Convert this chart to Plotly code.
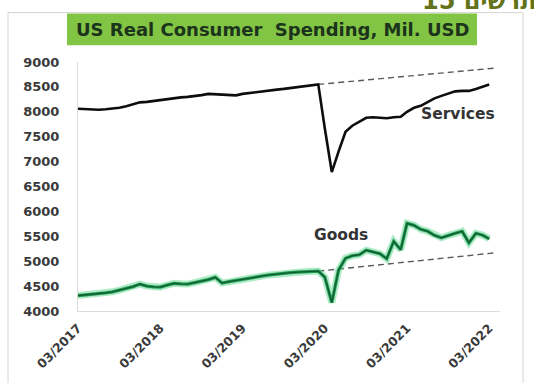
import pandas as pd
import plotly.graph_objects as go

# Monthly real consumer spending (millions USD), Mar 2017 - Mar 2022
months = pd.date_range("2017-03-01", "2022-03-01", freq="MS")

services = [
    8060, 8050, 8045, 8040, 8050, 8065, 8080, 8110, 8150, 8190,
    8200, 8220, 8245, 8260, 8275, 8290, 8300, 8315, 8335, 8360,
    8355, 8345, 8335, 8330, 8360, 8380, 8395, 8410, 8430, 8445,
    8460, 8478, 8490, 8510, 8530, 8550, 7670, 6790, 7200, 7600,
    7720, 7800, 7880, 7890, 7880, 7870, 7890, 7900, 8000, 8080,
    8120, 8200, 8270, 8320, 8370, 8410, 8420, 8420, 8460, 8510,
    8550,
]

goods = [
    4310, 4320, 4335, 4350, 4365, 4385, 4420, 4450, 4490, 4540,
    4500, 4485, 4480, 4520, 4555, 4545, 4540, 4570, 4595, 4630,
    4675, 4560, 4590, 4615, 4640, 4670, 4690, 4705, 4725, 4745,
    4760, 4770, 4780, 4790, 4800, 4800, 4680, 4170, 4820, 5060,
    5110, 5130, 5220, 5190, 5150, 5050, 5400, 5230, 5760, 5720,
    5640, 5600, 5520, 5470, 5520, 5560, 5600, 5370, 5560, 5520,
    5450,
]

# Pre-pandemic trend lines (from Feb 2020 forward)
trend_dates = ["2020-02-01", "2022-04-01"]
services_trend = [8550, 8880]
goods_trend = [4800, 5170]

y_ticks = [4000, 4500, 5000, 5500, 6000, 6500, 7000, 7500, 8000, 8500, 9000]

title_text = "US Real Consumer  Spending, Mil. USD"
header_text = "15 תרשים"

W, H = 534, 383
ML, MR, MT, MB = 78, 34, 62, 69
PW, PH = W - ML - MR, H - MT - MB


def px(x):
    return (x - ML) / PW


def py(y):
    return (H - MB - y) / PH


FONT = "DejaVu Sans"

fig = go.Figure()

# Dashed trend lines
for tv in (services_trend, goods_trend):
    fig.add_trace(go.Scatter(
        x=trend_dates, y=tv, mode="lines",
        line=dict(color="#5a5a5a", width=1.4, dash="6px,4px"),
        hoverinfo="skip", showlegend=False,
    ))

# Goods: soft green glow under a darker core line
fig.add_trace(go.Scatter(
    x=months, y=goods, mode="lines",
    line=dict(color="rgba(80,210,130,0.45)", width=7),
    hoverinfo="skip", showlegend=False,
))
fig.add_trace(go.Scatter(
    x=months, y=goods, mode="lines",
    line=dict(color="#1f9a52", width=3.2),
    showlegend=False,
))
fig.add_trace(go.Scatter(
    x=months, y=goods, mode="lines",
    line=dict(color="#135c31", width=1.4),
    showlegend=False,
))

# Services
fig.add_trace(go.Scatter(
    x=months, y=services, mode="lines",
    line=dict(color="#0d0d0d", width=2.6),
    showlegend=False,
))

# Frame and title box
shapes = [
    dict(type="rect", xref="paper", yref="paper",
         x0=px(8), x1=px(523), y0=py(395), y1=py(12),
         line=dict(color="#d4d4d4", width=1), fillcolor="rgba(0,0,0,0)", layer="below"),
    dict(type="rect", xref="paper", yref="paper",
         x0=px(67), x1=px(477), y0=py(45), y1=py(13),
         line=dict(width=0), fillcolor="#82c443", layer="below"),
]

annotations = [
    dict(text=title_text, xref="paper", yref="paper",
         x=px(272), y=py(29), xanchor="center", yanchor="middle", showarrow=False,
         font=dict(family=FONT, size=18, color="#1c331c", weight="bold")),
    dict(text=header_text, xref="paper", yref="paper",
         x=px(420), y=py(0), xanchor="left", yanchor="middle", showarrow=False,
         font=dict(family=FONT, size=24, color="#62731a", weight="bold")),
    dict(text="Services", xref="paper", yref="paper",
         x=px(458), y=py(115), xanchor="center", yanchor="middle", showarrow=False,
         font=dict(family=FONT, size=15.5, color="#333333", weight="bold")),
    dict(text="Goods", xref="paper", yref="paper",
         x=px(341), y=py(237), xanchor="center", yanchor="middle", showarrow=False,
         font=dict(family=FONT, size=15.5, color="#333333", weight="bold")),
]

fig.update_layout(
    width=W, height=H,
    margin=dict(l=ML, r=MR, t=MT, b=MB),
    paper_bgcolor="white", plot_bgcolor="white",
    shapes=shapes, annotations=annotations,
    font=dict(family=FONT),
)

fig.update_xaxes(
    range=["2017-03-01", "2022-04-18"],
    tick0="2017-03-01", dtick="M12", tickformat="%m/%Y",
    tickangle=-45, ticks="", showgrid=False, ticklabelstandoff=4,
    showline=True, linecolor="#dcdcdc", linewidth=1,
    tickfont=dict(family=FONT, size=12.5, color="#3a3a3a", weight="bold"),
    zeroline=False,
)
fig.update_yaxes(
    range=[4000, 9000], tickvals=y_ticks,
    ticks="", showgrid=False, ticklabelstandoff=15,
    showline=True, linecolor="#dcdcdc", linewidth=1,
    tickfont=dict(family=FONT, size=13, color="#3a3a3a", weight="bold"),
    zeroline=False,
)

fig.write_html("out.html")
